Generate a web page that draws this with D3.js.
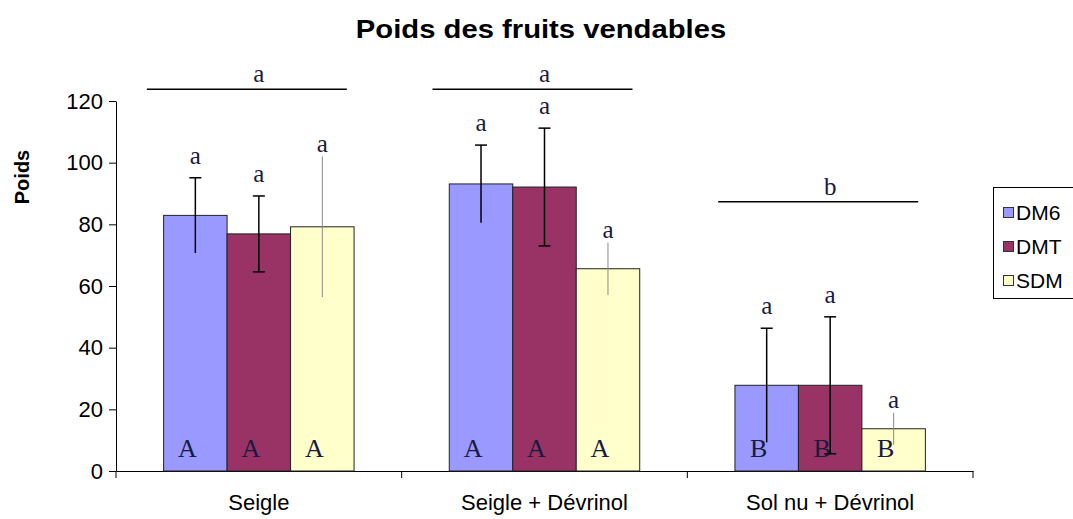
<!DOCTYPE html>
<html>
<head>
<meta charset="utf-8">
<script src="https://cdn.jsdelivr.net/npm/d3@7"></script>
<style>
  body { margin: 0; background: #fff; }
  svg { display: block; }
</style>
</head>
<body>
<svg id="s1" width="1073" height="519"></svg>
<script>
/*************************Data********************* */
const categories = ["Seigle", "Seigle + Dévrinol", "Sol nu + Dévrinol"];
const seriesNames = ["DM6", "DMT", "SDM"];
const seriesColors = ["#9999ff", "#993366", "#ffffcc"];
const dm6Values = [82.9, 93.1, 27.8];
const dmtValues = [76.9, 92.1, 27.8];
const sdmValues = [79.2, 65.6, 13.7];
const dm6Errors = [12.2, 12.6, 18.5];
const dmtErrors = [12.3, 19.1, 22.2];
const sdmErrors = [22.8, 8.5, 5.2];
const barLetters = ["A", "A", "B"]; // letter inside the bars of each group
const errorLetter = "a"; // letter above every error bar
const groupLetters = ["a", "a", "b"];
const groupLevels = [123.8, 123.8, 87.3]; // height of the group line (Poids units)
const yTicks = [0, 20, 40, 60, 80, 100, 120];

const rows = [];
categories.forEach((cat, i) => {
  [dm6Values, dmtValues, sdmValues].forEach((vals, s) => {
    const errs = [dm6Errors, dmtErrors, sdmErrors][s];
    rows.push({ cat, series: seriesNames[s], s, value: vals[i], err: errs[i], letter: barLetters[i] });
  });
});

/*************************Scales********************* */
const svg = d3.select("svg#s1");
const sans = "'Liberation Sans', Arial, sans-serif";
const serif = "'Liberation Serif', 'Times New Roman', serif";

const scaleX = d3.scaleBand().domain(categories).range([116, 973]).padding(0);
const scaleS = d3.scaleBand().domain(seriesNames).range([0, scaleX.bandwidth()]).paddingInner(0).paddingOuter(0.75);
const scaleY = d3.scaleLinear().domain([0, 120]).range([471, 101]);

/*************************Title and axis title********************* */
svg.append("text")
  .text("Poids des fruits vendables")
  .attr("x", 0)
  .attr("y", 0)
  .attr("text-anchor", "middle")
  .attr("transform", "translate(541,38) scale(1.17,1)")
  .style("font-family", sans)
  .style("font-weight", "bold")
  .style("font-size", "25px")
  .attr("fill", "#000");

svg.append("text")
  .text("Poids")
  .attr("text-anchor", "middle")
  .attr("transform", "translate(29,177) rotate(-90)")
  .style("font-family", sans)
  .style("font-weight", "bold")
  .style("font-size", "20px")
  .attr("fill", "#000");

/*************************Axes********************* */
const yAxis = d3.axisLeft(scaleY).tickValues(yTicks).tickSize(7).tickPadding(6).tickSizeOuter(0);
const gy = svg.append("g").attr("class", "y-axis").attr("transform", "translate(116,0)").call(yAxis);
gy.select(".domain").attr("stroke", "#000");
gy.selectAll(".tick line").attr("stroke", "#000");
gy.selectAll(".tick text").style("font-family", sans).style("font-size", "22px").attr("fill", "#000");

const xAxis = d3.axisBottom(scaleX).tickSize(0).tickPadding(23).tickSizeOuter(0);
const gx = svg.append("g").attr("class", "x-axis").attr("transform", "translate(0,471)").call(xAxis);
gx.select(".domain").attr("stroke", "#000");
gx.selectAll(".tick text").style("font-family", sans).style("font-size", "22px").attr("fill", "#000");

// category separators below the x axis
gx.selectAll("line.sep")
  .data([scaleX.range()[0], ...categories.map((c) => scaleX(c) + scaleX.bandwidth())])
  .join("line")
  .attr("class", "sep")
  .attr("x1", (d) => d)
  .attr("x2", (d) => d)
  .attr("y1", 0)
  .attr("y2", 7)
  .attr("stroke", "#000");

/*************************Bars********************* */
const barX = (d) => scaleX(d.cat) + scaleS(d.series);
const midX = (d) => barX(d) + scaleS.bandwidth() / 2;

svg.append("g").attr("class", "bars")
  .selectAll("rect")
  .data(rows)
  .join("rect")
  .attr("x", barX)
  .attr("y", (d) => scaleY(d.value))
  .attr("width", scaleS.bandwidth())
  .attr("height", (d) => scaleY(0) - scaleY(d.value))
  .attr("fill", (d) => seriesColors[d.s])
  .attr("stroke", "#222")
  .attr("stroke-width", 1);

// letters inside the bars
svg.append("g").attr("class", "bar-letters")
  .selectAll("text")
  .data(rows)
  .join("text")
  .text((d) => d.letter)
  .attr("x", (d) => midX(d) - 8)
  .attr("y", 457)
  .attr("text-anchor", "middle")
  .style("font-family", serif)
  .style("font-size", "26px")
  .attr("fill", "#1a1a40");

/*************************Error bars********************* */
const eb = svg.append("g").attr("class", "errors");
eb.selectAll("line.stem")
  .data(rows)
  .join("line")
  .attr("class", "stem")
  .attr("x1", midX)
  .attr("x2", midX)
  .attr("y1", (d) => scaleY(d.value + d.err))
  .attr("y2", (d) => scaleY(d.value - d.err))
  .attr("stroke", (d) => (d.s === 2 ? "#8a8a8a" : "#000"))
  .attr("stroke-width", (d) => (d.s === 2 ? 1 : 1.5));

// top caps (DM6 and DMT)
eb.selectAll("line.cap-top")
  .data(rows.filter((d) => d.s < 2))
  .join("line")
  .attr("class", "cap-top")
  .attr("x1", (d) => midX(d) - 6)
  .attr("x2", (d) => midX(d) + 6)
  .attr("y1", (d) => scaleY(d.value + d.err))
  .attr("y2", (d) => scaleY(d.value + d.err))
  .attr("stroke", "#000")
  .attr("stroke-width", 1.5);

// bottom caps (DMT only)
eb.selectAll("line.cap-bot")
  .data(rows.filter((d) => d.s === 1))
  .join("line")
  .attr("class", "cap-bot")
  .attr("x1", (d) => midX(d) - 6)
  .attr("x2", (d) => midX(d) + 6)
  .attr("y1", (d) => scaleY(d.value - d.err))
  .attr("y2", (d) => scaleY(d.value - d.err))
  .attr("stroke", "#000")
  .attr("stroke-width", 1.5);

// letters above the error bars
svg.append("g").attr("class", "err-letters")
  .selectAll("text")
  .data(rows)
  .join("text")
  .text(errorLetter)
  .attr("x", midX)
  .attr("y", (d) => scaleY(d.value + d.err) - (d.s === 2 ? 5 : 14))
  .attr("text-anchor", "middle")
  .style("font-family", serif)
  .style("font-size", "25px")
  .attr("fill", "#1a1a40");

/*************************Group comparison********************* */
const gg = svg.append("g").attr("class", "groups");
gg.selectAll("line")
  .data(categories)
  .join("line")
  .attr("x1", (d) => scaleX(d) + scaleX.bandwidth() / 2 - 112)
  .attr("x2", (d) => scaleX(d) + scaleX.bandwidth() / 2 + 88)
  .attr("y1", (d, i) => scaleY(groupLevels[i]))
  .attr("y2", (d, i) => scaleY(groupLevels[i]))
  .attr("stroke", "#000")
  .attr("stroke-width", 1.5);
gg.selectAll("text")
  .data(categories)
  .join("text")
  .text((d, i) => groupLetters[i])
  .attr("x", (d) => scaleX(d) + scaleX.bandwidth() / 2)
  .attr("y", (d, i) => scaleY(groupLevels[i]) - 7)
  .attr("text-anchor", "middle")
  .style("font-family", serif)
  .style("font-size", "25px")
  .attr("fill", "#1a1a40");

/*************************Legend********************* */
const legend = svg.append("g").attr("class", "legend").attr("transform", "translate(993,187)");
legend.append("rect")
  .attr("x", 0.5)
  .attr("y", 0.5)
  .attr("width", 100)
  .attr("height", 111)
  .attr("fill", "#fff")
  .attr("stroke", "#000");
const items = legend.selectAll("g.item")
  .data(seriesNames)
  .join("g")
  .attr("class", "item")
  .attr("transform", (d, i) => `translate(10,${26 + i * 34})`);
items.append("rect")
  .attr("x", 0.5)
  .attr("y", -5.5)
  .attr("width", 10)
  .attr("height", 10)
  .attr("fill", (d, i) => seriesColors[i])
  .attr("stroke", "#333");
items.append("text")
  .text((d) => d)
  .attr("x", 13)
  .attr("y", 0)
  .attr("dy", "0.35em")
  .style("font-family", sans)
  .style("font-size", "21px")
  .attr("fill", "#000");
</script>
</body>
</html>
